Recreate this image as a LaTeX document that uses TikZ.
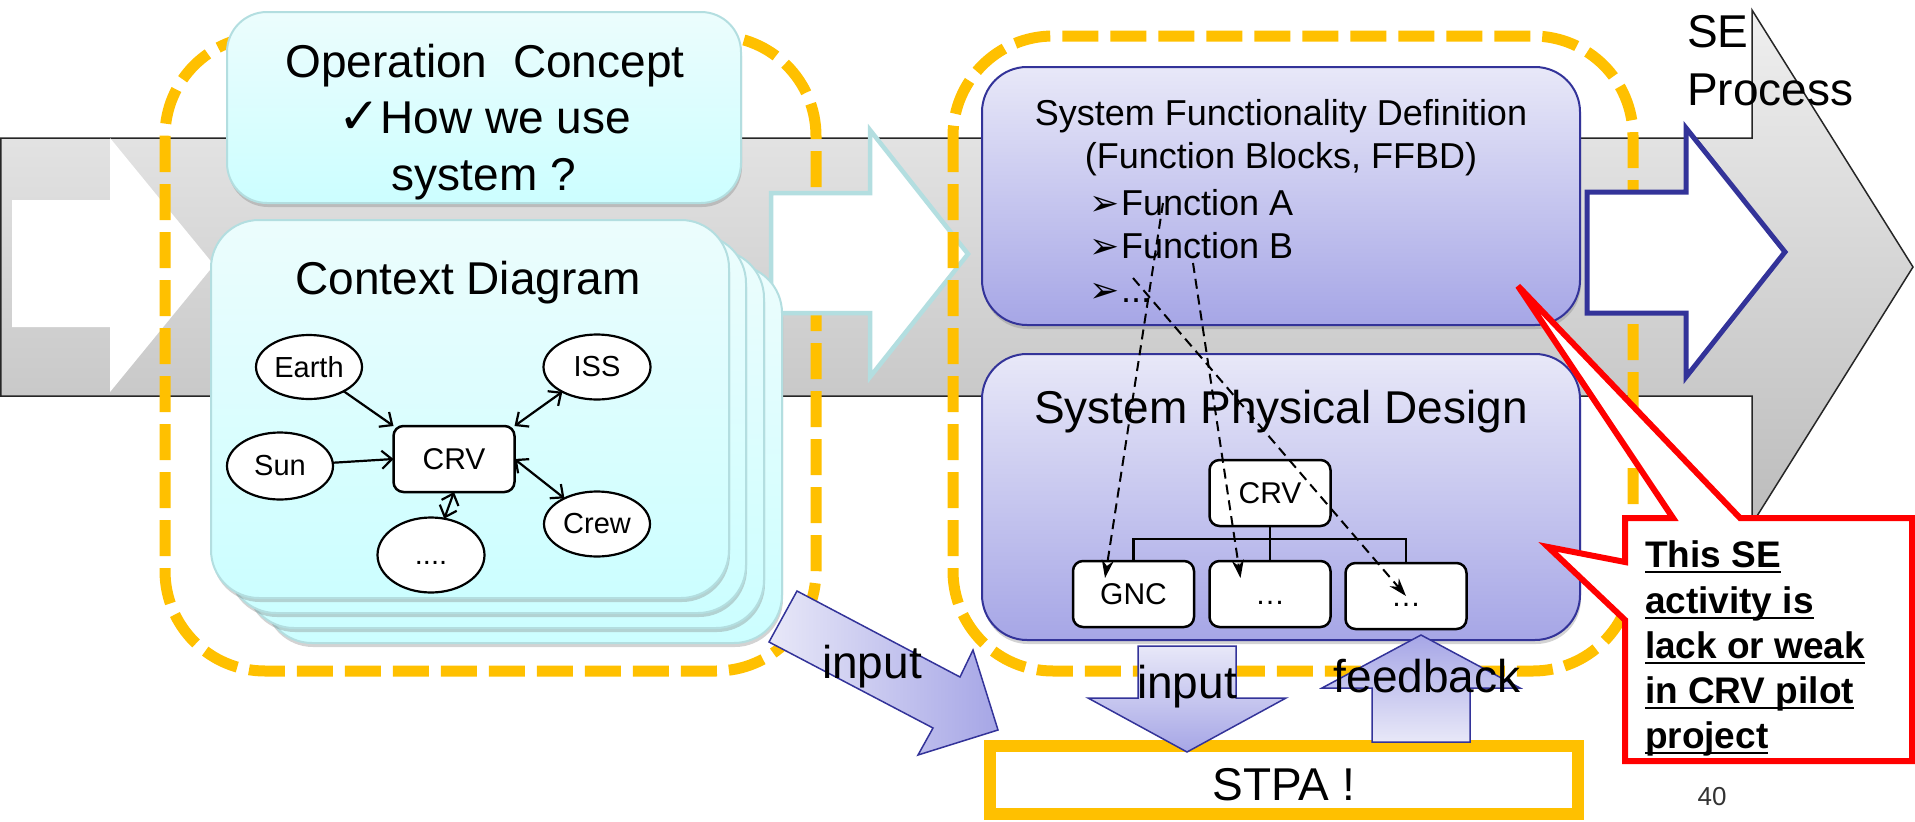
\documentclass[tikz,border=0pt]{standalone}
\usepackage{fontspec}
\setmainfont{Liberation Sans}
\newfontfamily\dejavu{DejaVu Sans}
\usetikzlibrary{arrows.meta,shapes.geometric,shadows,calc}
\definecolor{orng}{HTML}{FFC000}
\definecolor{cyanTop}{HTML}{ECFDFD}
\definecolor{cyanBot}{HTML}{CCFEFF}
\definecolor{cyanEdge}{HTML}{B3DEE0}
\definecolor{lavTop}{HTML}{E8E8F8}
\definecolor{lavBot}{HTML}{A6A6E6}
\definecolor{navy}{HTML}{333399}
\definecolor{grayTop}{HTML}{EFEFEF}
\definecolor{grayBot}{HTML}{BCBCBC}
\newcommand{\fsz}[1]{\fontsize{#1}{#1}\selectfont}
\newsavebox{\ulbox}
\newcommand{\myUline}[1]{\sbox{\ulbox}{#1}\rlap{\rule[-6pt]{\wd\ulbox}{2.5pt}}\usebox{\ulbox}}
\newcommand{\bul}{\makebox[30pt][l]{\hspace{-2pt}{\dejavu\fsz{36}➢}}}
\begin{document}
\begin{tikzpicture}[x=1pt,y=-1pt,
  every node/.style={inner sep=0pt,outer sep=0pt},
  shd/.style={drop shadow={opacity=0.35,shadow xshift=1pt,shadow yshift=-4pt}},
  dashbox/.style={draw=orng,line width=11pt,dash pattern=on 36pt off 12pt,rounded corners=100pt},
  cyanbox/.style={draw=cyanEdge,line width=2pt,top color=cyanTop,bottom color=cyanBot,shd},
  lavbox/.style={draw=navy,line width=2pt,top color=lavTop,bottom color=lavBot,rounded corners=45pt,shd,minimum width=598pt},
  ent/.style={ellipse,draw,line width=2.2pt,fill=white,font=\fsz{29}},
  blk/.style={rectangle,rounded corners=10pt,draw,line width=2.5pt,fill=white,font=\fsz{30},minimum width=121pt,minimum height=66pt},
  rel/.style={line width=2.2pt,-{Straight Barb[length=10pt,width=18pt]}},
  relb/.style={line width=2.2pt,{Straight Barb[length=10pt,width=18pt]}-{Straight Barb[length=10pt,width=18pt]}},
  fnlink/.style={line width=2pt,dash pattern=on 10pt off 6pt,-{Stealth[length=18pt,width=12pt]}},
  tree/.style={line width=2.5pt},
  bigarrow/.style={draw=navy,line width=1.5pt},
  big/.style={anchor=base,font=\fsz{46}},
  mid/.style={anchor=base,font=\fsz{36}},
  note/.style={anchor=base west,font=\fsz{37}\bfseries}
]
\useasboundingbox (0,0) rectangle (1915,822);
% SE process arrow
\path[draw=black!85,line width=1.5pt,top color=grayTop,bottom color=grayBot]
  (0.75,138) -- (1752,138) -- (1752,10) -- (1913,267) -- (1752,524) -- (1752,396) -- (0.75,396) -- cycle;
% left white arrow
\fill[white] (12,200) -- (110,200) -- (110,138) -- (214,265) -- (110,392) -- (110,327) -- (12,327) -- cycle;
% left dashed group
\draw[dashbox] (165,36) rectangle (816,671);
% cyan arrow
\draw[draw=cyanEdge,line width=4.5pt,fill=white] (771,193) -- (870,193) -- (870,130) -- (968,254) -- (870,377) -- (870,313) -- (771,313) -- cycle;
% right dashed group
\draw[dashbox] (953,36) rectangle (1633,671);
% blue arrow
\draw[draw=navy,line width=5pt,fill=white] (1587,192) -- (1686,192) -- (1686,128) -- (1785,252) -- (1686,377) -- (1686,313) -- (1587,313) -- cycle;

% Operation concept
\node[cyanbox,rounded corners=40pt,minimum width=514pt,minimum height=191pt] (opc) at (484,107.5) {};
\node[big] (op1) at (485,77) {Operation\ \ Concept};
\node[big] (op2) at (485,133) {{\dejavu\fsz{50}✓}How we use};
\node[big] (op3) at (484,190) {system ?};

% Context diagram stack
\node[cyanbox,rounded corners=48pt,minimum width=518pt,minimum height=378pt] (ctx3) at (523,454) {};
\node[cyanbox,rounded corners=48pt,minimum width=518pt,minimum height=378pt] (ctx2) at (505,439) {};
\node[cyanbox,rounded corners=48pt,minimum width=518pt,minimum height=378pt] (ctx1) at (487,424) {};
\node[cyanbox,rounded corners=48pt,minimum width=518pt,minimum height=378pt] (ctx) at (470,409) {};
\node[big] (ctxt) at (468,294) {Context Diagram};
\node[ent,minimum width=106pt,minimum height=64pt] (earth) at (309,367) {Earth};
\node[ent,minimum width=107pt,minimum height=65pt] (iss) at (597,367) {ISS};
\node[ent,minimum width=106pt,minimum height=67pt] (sun) at (280,466) {Sun};
\node[ent,minimum width=106pt,minimum height=65pt] (crew) at (597,524) {Crew};
\node[ent,minimum width=107pt,minimum height=75pt] (more) at (431,555) {\vphantom{C}....};
\node[blk] (crvA) at (454,459) {CRV};
\draw[rel] (earth) -- (crvA.north west);
\draw[rel] (sun) -- (crvA.west);
\draw[relb] (iss) -- (crvA.north east);
\draw[relb] (crew) -- (crvA.east);
\draw[relb] (more) -- (crvA.south);

% System functionality definition
\node[lavbox,minimum height=258pt] (sfd) at (1281,196) {};
\node[mid] (sfd1) at (1281,125) {System Functionality Definition};
\node[mid] (sfd2) at (1281,168) {(Function Blocks, FFBD)};
\node[mid,anchor=base west] (fa) at (1091,215) {\bul Function A};
\node[mid,anchor=base west] (fb) at (1091,258) {\bul Function B};
\node[mid,anchor=base west] (fd) at (1091,302) {\bul ...};

% System physical design
\node[lavbox,minimum height=286pt] (spd) at (1281,497) {};
\node[big] (spdt) at (1281,423) {System Physical Design};
\node[blk] (crvB) at (1270,493) {CRV};
\node[blk] (gnc) at (1133.5,594) {GNC};
\node[blk] (box2) at (1270,594) {\vphantom{C}…};
\node[blk] (box3) at (1406,596) {\vphantom{C}…};
\coordinate (bus) at (1270,539);
\draw[tree] (crvB.south) -- (box2.north);
\draw[tree] (gnc.north) -- (gnc.north |- bus) -- (box3.north |- bus) -- (box3.north);
\coordinate (fA) at (1163,203);
\coordinate (fB) at (1193,263);
\coordinate (fD) at (1133,278);
\coordinate (gncIn) at ($(gnc.north west)+(32,17)$);
\coordinate (b2In) at ($(box2.north west)+(31,17)$);
\draw[fnlink] (fA) -- (gncIn);
\draw[fnlink] (fB) -- (b2In);
\draw[fnlink] (fD) -- (box3.center);

% STPA
\node[draw=orng,line width=12pt,fill=white,minimum width=588pt,minimum height=68pt] (stpa) at (1284,780) {};
\node[big] (stpat) at (1284,800) {STPA !};

% input / feedback arrows
\path[bigarrow,left color=lavTop,right color=lavBot]
  (797,591) -- (960,677) -- (973,650) -- (998,730) -- (918,755) -- (933,728) -- (769,642) -- cycle;
\node[big] (in1) at (872,678) {input};
\path[bigarrow,top color=lavTop,bottom color=lavBot]
  (1138,646) -- (1236,646) -- (1236,698) -- (1286,698) -- (1187,752) -- (1088,698) -- (1138,698) -- cycle;
\node[big] (in2) at (1187,698) {input};
\path[bigarrow,top color=lavBot,bottom color=lavTop]
  (1372,742) -- (1470,742) -- (1470,688) -- (1520,688) -- (1421,635) -- (1322,688) -- (1372,688) -- cycle;
\node[big] (fbk) at (1427,692) {feedback};

% SE Process label
\node[big,anchor=base west] (se1) at (1687,47) {SE};
\node[big,anchor=base west] (se2) at (1687,105) {Process};

% callout
\path[draw=red,line width=6pt,fill=white]
  (1625,518) -- (1673,518) -- (1518,286) -- (1740,518) -- (1912,518) -- (1912,761) -- (1625,761) -- (1625,620) -- (1548,547) -- (1625,562) -- cycle;
\node[note] (c1) at (1645,567) {\myUline{This SE}};
\node[note] (c2) at (1645,613) {\myUline{activity is}};
\node[note] (c3) at (1645,658) {\myUline{lack or weak}};
\node[note] (c4) at (1645,703) {\myUline{in CRV pilot}};
\node[note] (c5) at (1645,748) {\myUline{project}};

\node[anchor=base,font=\fsz{26},text=black!80] (pg) at (1712,805) {40};
\end{tikzpicture}
\end{document}
